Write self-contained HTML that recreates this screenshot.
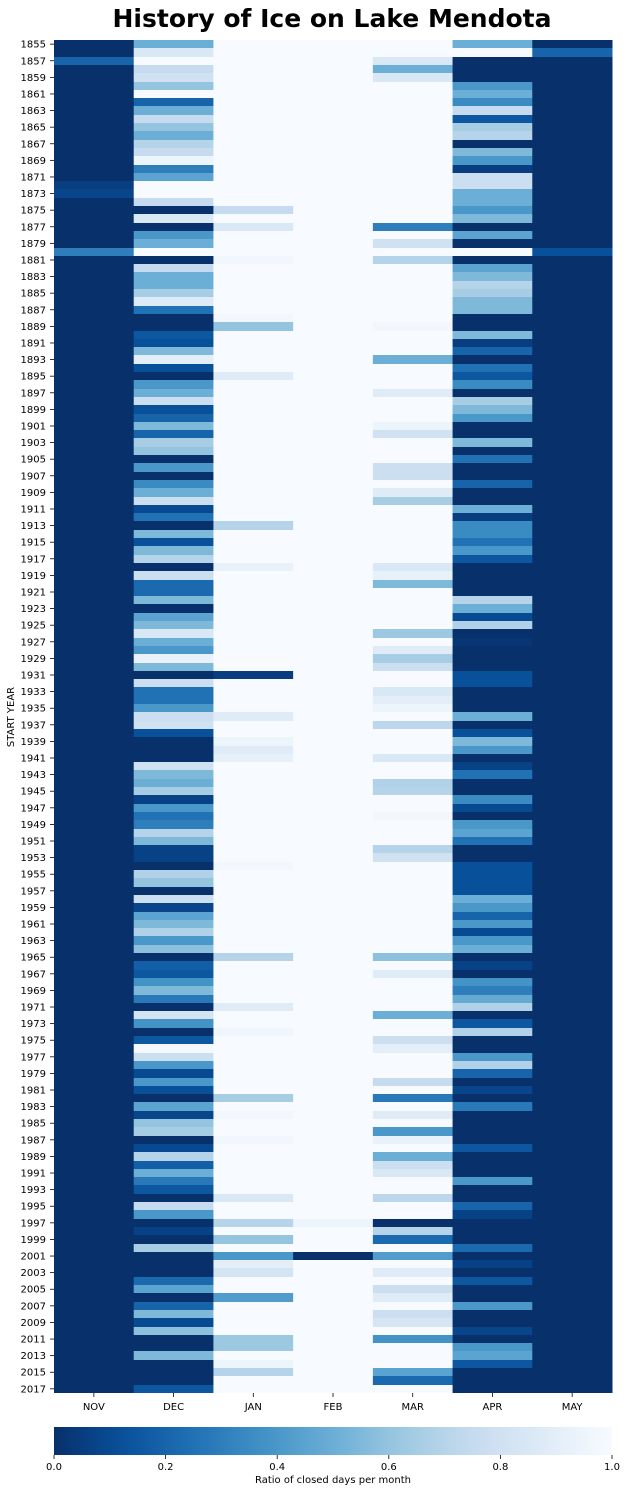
<!DOCTYPE html>
<html><head><meta charset="utf-8"><style>
html,body{margin:0;padding:0;background:#fff;}
svg{display:block;font-family:"DejaVu Sans","Liberation Sans",sans-serif;}
</style></head><body>
<svg id="chart" width="626" height="1493" viewBox="0 0 626 1493">
<text x="332" y="27" text-anchor="middle" font-size="25" font-weight="bold" fill="#000">History of Ice on Lake Mendota</text>
<text transform="translate(14,717) rotate(-90)" text-anchor="middle" font-size="10" fill="#000">START YEAR</text>
<g id="cells"></g>
<g id="yticks"></g>
<g id="xticks"></g>
<defs><linearGradient id="cbgrad" x1="0" x2="1" y1="0" y2="0"></linearGradient></defs>
<rect x="54" y="1427" width="558" height="28" fill="url(#cbgrad)"/>
<g id="cbticks"></g>
<text x="333" y="1483" text-anchor="middle" font-size="10" fill="#000">Ratio of closed days per month</text>
</svg>
<script>
const startYear = 1855;
const months = ["NOV","DEC","JAN","FEB","MAR","APR","MAY"];
const nov = [
0,0,.2,0,0,0,0,0,0,0, 0,0,0,0,0,0,0,.05,.08,0, 0,0,0,0,0,.3,0,0,0,0, 0,0,0,0,0,0,0,0,0,0,
0,0,0,0,0,0,0,0,0,0, 0,0,0,0,0,0,0,0,0,0, 0,0,0,0,0,0,0,0,0,0, 0,0,0,0,0,0,0,0,0,0,
0,0,0,0,0,0,0,0,0,0, 0,0,0,0,0,0,0,0,0,0, 0,0,0,0,0,0,0,0,0,0, 0,0,0,0,0,0,0,0,0,0,
0,0,0,0,0,0,0,0,0,0, 0,0,0,0,0,0,0,0,0,0, 0,0,0,0,0,0,0,0,0,0, 0,0,0,0,0,0,0,0,0,0, 0,0,0];
const dec = [
.5,.85,1,.75,.8,.6,1,.2,.5,.75, .6,.5,.7,.75,.95,.3,.45,1,1,.75,
0,.85,0,.4,.5,1,0,.75,.5,.5, .65,.87,.25,0,0,.15,.12,.55,.9,.12,
0,.4,.5,.78,.12,.2,.55,.2,.65,.6, 0,.4,0,.35,.5,.78,.1,.25,0,.55,
.12,.55,.7,0,.78,.22,.22,.55,0,.45, .55,.85,.5,.4,.93,.55,0,.78,.25,.25,
.4,.78,.8,.12,0,0,0,.8,.55,.5, .65,.07,.4,.25,.3,.7,.55,.07,.07,0,
.68,.6,0,.78,.08,.45,.55,.68,.4,.58, 0,.18,.15,.38,.55,.28,0,.82,.38,0,
.15,.98,.78,.4,.1,.4,.12,0,.45,.08, .6,.65,0,.1,.7,.18,.5,.28,.15,0,
.75,.4,0,.07,0,.65,0,0,0,.22, .45,0,.2,.55,.1,.58,0,0,.55,0, 0,0,.15];
const jan = [
1,1,1,1,1,1,1,1,1,1, 1,1,1,1,1,1,1,1,1,1,
.75,1,.85,1,1,1,.97,1,1,1, 1,1,1,.97,.6,1,1,1,1,1,
.88,1,1,1,1,1,1,1,1,1, 1,1,1,1,1,1,1,1,.7,1,
1,1,1,.93,1,1,1,1,1,1, 1,1,1,1,1,1,.05,1,1,1,
1,.88,1,1,.95,.88,.92,1,1,1, 1,1,1,1,1,1,1,1,1,.97,
1,1,1,1,1,1,1,1,1,1, .7,1,1,1,1,1,.88,1,1,.96,
1,1,1,1,1,1,1,.65,1,.97, 1,1,.97,1,1,1,1,1,1,.85,
1,1,.7,1,.6,1,.4,.9,.82,1, 1,.42,1,1,1,1,.62,.62,1,.95, .7,1,1];
const feb = [
1,1,1,1,1,1,1,1,1,1, 1,1,1,1,1,1,1,1,1,1, 1,1,1,1,1,1,1,1,1,1, 1,1,1,1,1,1,1,1,1,1,
1,1,1,1,1,1,1,1,1,1, 1,1,1,1,1,1,1,1,1,1, 1,1,1,1,1,1,1,1,1,1, 1,1,1,1,1,1,1,1,1,1,
1,1,1,1,1,1,1,1,1,1, 1,1,1,1,1,1,1,1,1,1, 1,1,1,1,1,1,1,1,1,1, 1,1,1,1,1,1,1,1,1,1,
1,1,1,1,1,1,1,1,1,1, 1,1,1,1,1,1,1,1,1,1, 1,1,.95,1,1,1,0,1,1,1, 1,1,1,1,1,1,1,1,1,1, 1,1,1];
const mar = [
1,1,.85,.5,.85,1,1,1,1,1, 1,1,1,1,1,1,1,1,1,1,
1,1,.3,1,.8,1,.7,1,1,1, 1,1,1,1,.97,1,1,1,.5,1,
1,1,.88,1,1,1,.95,.8,1,1, 1,.78,.78,1,.88,.65,1,1,1,1,
1,1,1,.85,.92,.55,1,1,1,1, 1,.62,1,.88,.65,.78,1,1,.85,.9,
.95,1,.72,1,1,1,.85,1,1,.68, .7,1,1,.97,1,1,1,.7,.8,1,
1,1,1,1,1,1,1,1,1,1, .58,1,.88,1,1,1,1,.5,1,1,
.78,.9,1,1,1,.75,1,.28,1,.88, 1,.4,.93,1,.5,.78,.85,1,1,.72,
1,1,0,.7,.22,1,.42,1,.88,1, .78,.88,1,.78,.83,1,.38,1,1,1, .45,.22,1];
const apr = [
.5,1,0,0,0,.4,.5,.35,.75,.15, .65,.7,0,.55,.4,.05,.78,.78,.5,.5,
.4,.55,0,.45,0,1,0,.45,.55,.7, .65,.55,.55,0,0,.55,.05,.2,0,.25,
.15,.35,0,.65,.55,.4,0,0,.55,0, .25,0,0,.2,0,0,.5,.05,.35,.35,
.25,.4,.15,0,0,0,0,.7,.5,.1, .68,0,.02,0,0,0,.12,.12,0,0,
0,.5,0,.12,.55,.4,0,.07,.25,0, 0,.35,.1,0,.4,.45,.25,0,0,.12,
.12,.12,.12,.5,.4,.2,.4,.1,.4,.5, 0,.07,0,.38,.3,.48,.68,0,.15,.68,
0,0,.4,.68,.2,0,.08,0,.28,0, 0,0,0,.15,0,0,0,.4,0,0,
.2,.07,0,0,0,.22,0,.07,0,.15, 0,0,.4,0,0,.08,0,.4,.45,.15, 0,0,0];
const may = [
0,.2,0,0,0,0,0,0,0,0, 0,0,0,0,0,0,0,0,0,0, 0,0,0,0,0,.12,0,0,0,0, 0,0,0,0,0,0,0,0,0,0,
0,0,0,0,0,0,0,0,0,0, 0,0,0,0,0,0,0,0,0,0, 0,0,0,0,0,0,0,0,0,0, 0,0,0,0,0,0,0,0,0,0,
0,0,0,0,0,0,0,0,0,0, 0,0,0,0,0,0,0,0,0,0, 0,0,0,0,0,0,0,0,0,0, 0,0,0,0,0,0,0,0,0,0,
0,0,0,0,0,0,0,0,0,0, 0,0,0,0,0,0,0,0,0,0, 0,0,0,0,0,0,0,0,0,0, 0,0,0,0,0,0,0,0,0,0, 0,0,0];
const colorbarTicks = ["0.0","0.2","0.4","0.6","0.8","1.0"];

const series = [nov, dec, jan, feb, mar, apr, may];
const NS = "http://www.w3.org/2000/svg";
const L = 54, R = 612, T = 40, B = 1393;
const nRows = dec.length;
const colW = (R - L) / months.length;
const rowH = (B - T) / nRows;
const xScale = i => L + i * colW;
const yScale = i => T + i * rowH;
const stops = ["#f7fbff","#deebf7","#c6dbef","#9ecae1","#6baed6","#4292c6","#2171b5","#08519c","#08306b"];
function hex(c){return [1,3,5].map(k=>parseInt(c.substr(k,2),16));}
function color(v){
  let t = Math.max(0, Math.min(1, 1 - v)) * (stops.length - 1);
  let i = Math.min(Math.floor(t), stops.length - 2), f = t - i;
  const a = hex(stops[i]), b = hex(stops[i+1]);
  return "rgb(" + a.map((x,k)=>Math.round(x + (b[k]-x)*f)).join(",") + ")";
}
const cells = document.getElementById("cells");
series.forEach((arr, c) => {
  arr.forEach((v, r) => {
    const rc = document.createElementNS(NS, "rect");
    const y0 = Math.round(yScale(r)), y1 = Math.round(yScale(r + 1));
    rc.setAttribute("x", xScale(c).toFixed(2));
    rc.setAttribute("y", y0);
    rc.setAttribute("width", (colW + 0.5).toFixed(2));
    rc.setAttribute("height", y1 - y0);
    rc.setAttribute("fill", color(v));
    
    
    cells.appendChild(rc);
  });
});
const yt = document.getElementById("yticks");
for (let r = 0; r < nRows; r += 2) {
  const yc = yScale(r) + rowH / 2;
  const ln = document.createElementNS(NS, "line");
  ln.setAttribute("x1", 50); ln.setAttribute("x2", 54);
  ln.setAttribute("y1", yc); ln.setAttribute("y2", yc);
  ln.setAttribute("stroke", "#000"); ln.setAttribute("stroke-width", "0.8");
  
  
  yt.appendChild(ln);
  const tx = document.createElementNS(NS, "text");
  tx.setAttribute("x", 46); tx.setAttribute("y", yc + 3.5);
  tx.setAttribute("text-anchor", "end"); tx.setAttribute("font-size", "10");
  tx.textContent = String(startYear + r);
  
  
  yt.appendChild(tx);
}
const xt = document.getElementById("xticks");
months.forEach((m, c) => {
  const xc = xScale(c) + colW / 2;
  const ln = document.createElementNS(NS, "line");
  ln.setAttribute("x1", xc); ln.setAttribute("x2", xc);
  ln.setAttribute("y1", B); ln.setAttribute("y2", B + 4);
  ln.setAttribute("stroke", "#000"); ln.setAttribute("stroke-width", "0.8");
  
  
  xt.appendChild(ln);
  const tx = document.createElementNS(NS, "text");
  tx.setAttribute("x", xc); tx.setAttribute("y", 1410);
  tx.setAttribute("text-anchor", "middle"); tx.setAttribute("font-size", "10");
  tx.textContent = m;
  
  
  xt.appendChild(tx);
});
const grad = document.getElementById("cbgrad");
for (let k = 0; k <= 20; k++) {
  const s = document.createElementNS(NS, "stop");
  s.setAttribute("offset", (k / 20));
  s.setAttribute("stop-color", color(k / 20));
  grad.appendChild(s);
}
const cb = document.getElementById("cbticks");
colorbarTicks.forEach(t => {
  const xc = L + parseFloat(t) * (R - L);
  const ln = document.createElementNS(NS, "line");
  ln.setAttribute("x1", xc); ln.setAttribute("x2", xc);
  ln.setAttribute("y1", 1455); ln.setAttribute("y2", 1459);
  ln.setAttribute("stroke", "#000"); ln.setAttribute("stroke-width", "0.8");
  
  
  cb.appendChild(ln);
  const tx = document.createElementNS(NS, "text");
  tx.setAttribute("x", xc); tx.setAttribute("y", 1470);
  tx.setAttribute("text-anchor", "middle"); tx.setAttribute("font-size", "10");
  tx.textContent = t;
  
  
  cb.appendChild(tx);
});
</script>
</body></html>
